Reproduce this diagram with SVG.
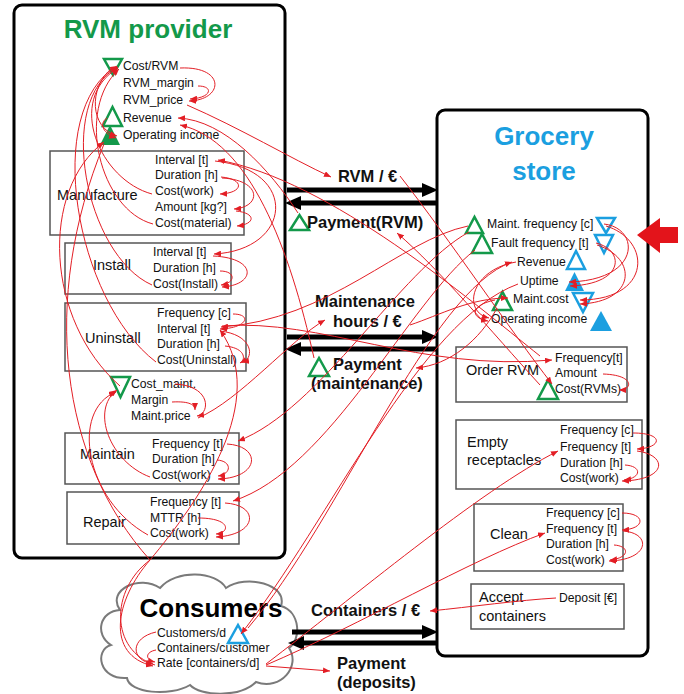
<svg xmlns="http://www.w3.org/2000/svg" width="684" height="694" viewBox="0 0 684 694">
<defs>
<marker id="ra" markerUnits="userSpaceOnUse" markerWidth="7" markerHeight="6" refX="7" refY="3" orient="auto"><path d="M0,0 L7,3 L0,6 z" fill="#e31e25"/></marker>
<style>
.outer{fill:#fff;stroke:#000;stroke-width:3}
.sub{fill:none;stroke:#555;stroke-width:1.5}
.t{font-family:"Liberation Sans",Arial,sans-serif;font-size:12.2px;fill:#111}
.lb{font-family:"Liberation Sans",Arial,sans-serif;font-size:14.5px;fill:#111}
.fl{font-family:"Liberation Sans",Arial,sans-serif;font-size:16.5px;font-weight:bold;fill:#111}
.ttl{font-family:"Liberation Sans",Arial,sans-serif;font-size:26px;font-weight:bold}
.go{fill:none;stroke:#13994a;stroke-width:2.5}
.gf{fill:#13994a}
.bo{fill:none;stroke:#1b9fe0;stroke-width:2.5}
.bf{fill:#1b9fe0}
.bar{stroke:#000;stroke-width:5}
.c{fill:none;stroke:#e31e25;stroke-width:1;marker-end:url(#ra)}
</style>
</defs>
<rect width="684" height="694" fill="#fff"/>

<g id="rvm-provider">
<rect class="outer" x="14" y="5" width="271" height="553" rx="8"/>
<text class="ttl" x="148" y="38" text-anchor="middle" fill="#13994a">RVM provider</text>
<polygon class="go" points="104,59 122,59 113,75"/>
<polygon class="go" points="103,126 122,126 112.5,107"/>
<polygon class="gf" points="100,145 120,145 110,125"/>
<text class="t" x="123" y="70">Cost/RVM</text>
<text class="t" x="123" y="87">RVM_margin</text>
<text class="t" x="123" y="104">RVM_price</text>
<text class="t" x="123" y="122">Revenue</text>
<text class="t" x="123" y="139">Operating income</text>
<g id="manufacture">
<rect class="sub" x="50" y="151" width="194" height="84"/>
<text class="lb" x="57" y="200">Manufacture</text>
<text class="t" x="155" y="164">Interval [t]</text>
<text class="t" x="155" y="179">Duration [h]</text>
<text class="t" x="155" y="195">Cost(work)</text>
<text class="t" x="155" y="211">Amount [kg?]</text>
<text class="t" x="155" y="227">Cost(material)</text>
</g>
<g id="install">
<rect class="sub" x="65" y="243" width="166" height="51"/>
<text class="lb" x="93" y="270">Install</text>
<text class="t" x="153" y="256">Interval [t]</text>
<text class="t" x="153" y="272">Duration [h]</text>
<text class="t" x="153" y="288">Cost(Install)</text>
</g>
<g id="uninstall">
<rect class="sub" x="65" y="303" width="181" height="68"/>
<text class="lb" x="85" y="343">Uninstall</text>
<text class="t" x="157" y="317">Frequency [c]</text>
<text class="t" x="157" y="333">Interval [t]</text>
<text class="t" x="157" y="348">Duration [h]</text>
<text class="t" x="157" y="364">Cost(Uninstall)</text>
</g>
<g id="cost-maint">
<polygon class="go" points="111,377 130,377 120.5,397"/>
<text class="t" x="131" y="388">Cost_maint.</text>
<text class="t" x="131" y="404">Margin</text>
<text class="t" x="131" y="420">Maint.price</text>
</g>
<g id="maintain">
<rect class="sub" x="65" y="433" width="174" height="51"/>
<text class="lb" x="80" y="459">Maintain</text>
<text class="t" x="152" y="448">Frequency [t]</text>
<text class="t" x="152" y="463">Duration [h]</text>
<text class="t" x="152" y="479">Cost(work)</text>
</g>
<g id="repair">
<rect class="sub" x="67" y="492" width="172" height="52"/>
<text class="lb" x="83" y="527">Repair</text>
<text class="t" x="150" y="506">Frequency [t]</text>
<text class="t" x="150" y="522">MTTR [h]</text>
<text class="t" x="150" y="537">Cost(work)</text>
</g>
</g>

<g id="grocery-store">
<rect class="outer" x="437" y="110" width="211" height="546" rx="8"/>
<text class="ttl" x="544" y="145" text-anchor="middle" fill="#1b9fe0">Grocery</text>
<text class="ttl" x="544" y="180" text-anchor="middle" fill="#1b9fe0">store</text>
<polygon class="go" points="466,233 483,233 474.5,217"/>
<polygon class="go" points="472,253 492,253 482,234"/>
<polygon class="bo" points="597,218 615,218 606,233"/>
<polygon class="bo" points="595,235 613,235 604,253"/>
<polygon class="bo" points="567,269 585,269 576,251"/>
<polygon class="bf" points="565,291 584,291 574.5,272"/>
<polygon class="go" points="493,310 512,310 502.5,292"/>
<polygon class="bo" points="573,293 593,293 583,312"/>
<polygon class="bf" points="590,331 612,331 601,311"/>
<text class="t" x="487" y="228">Maint. frequency [c]</text>
<text class="t" x="491" y="247">Fault frequency [t]</text>
<text class="t" x="517" y="266">Revenue</text>
<text class="t" x="520" y="285">Uptime</text>
<text class="t" x="513" y="303">Maint.cost</text>
<text class="t" x="491" y="323">Operating income</text>
<g id="order-rvm">
<rect class="sub" x="456" y="347" width="171" height="55"/>
<text class="lb" x="466" y="375">Order RVM</text>
<text class="t" x="555" y="362">Frequency[t]</text>
<text class="t" x="555" y="377">Amount</text>
<text class="t" x="555" y="393">Cost(RVMs)</text>
<polygon class="go" points="538,399 558,399 548,380"/>
</g>
<g id="empty-receptacles">
<rect class="sub" x="456" y="420" width="186" height="69"/>
<text class="lb" x="467" y="447">Empty</text>
<text class="lb" x="467" y="465">receptacles</text>
<text class="t" x="560" y="434">Frequency [c]</text>
<text class="t" x="560" y="451">Frequency [t]</text>
<text class="t" x="560" y="467">Duration [h]</text>
<text class="t" x="560" y="482">Cost(work)</text>
</g>
<g id="clean">
<rect class="sub" x="474" y="504" width="149" height="67"/>
<text class="lb" x="490" y="539">Clean</text>
<text class="t" x="546" y="517">Frequency [c]</text>
<text class="t" x="546" y="533">Frequency [t]</text>
<text class="t" x="546" y="548">Duration [h]</text>
<text class="t" x="546" y="564">Cost(work)</text>
</g>
<g id="accept-containers">
<rect class="sub" x="471" y="584" width="153" height="45"/>
<text class="lb" x="479" y="602">Accept</text>
<text class="lb" x="479" y="621">containers</text>
<text class="t" x="559" y="602">Deposit [€]</text>
</g>
</g>

<g id="consumers">
<path d="M120,610 C106,590 140,574 160,588 C176,569 216,571 226,588 C246,574 288,584 281,606 C301,612 301,640 289,648 C301,666 281,691 256,682 C240,698 200,696 190,685 C170,697 129,693 127,678 C99,680 94,650 111,645 C94,634 100,611 120,610 Z" fill="#fff" stroke="#7a7a7a" stroke-width="2"/>
<text x="211" y="617" text-anchor="middle" font-family="Liberation Sans, Arial, sans-serif" font-size="26" font-weight="bold" fill="#000">Consumers</text>
<text class="t" x="157" y="637">Customers/d</text>
<text class="t" x="157" y="652">Containers/customer</text>
<text class="t" x="157" y="667">Rate [containers/d]</text>
<polygon class="bo" points="228,643 248,643 238,625"/>
</g>

<g id="flows">
<line class="bar" x1="287" y1="190" x2="424" y2="190"/><polygon points="422,183 438,190 422,197"/>
<line class="bar" x1="299" y1="203" x2="437" y2="203"/><polygon points="301,196 285,203 301,210"/>
<line class="bar" x1="287" y1="337" x2="424" y2="337"/><polygon points="422,330 438,337 422,344"/>
<line class="bar" x1="299" y1="349" x2="437" y2="349"/><polygon points="301,342 285,349 301,356"/>
<line class="bar" x1="292" y1="632" x2="424" y2="632"/><polygon points="422,625 438,632 422,639"/>
<line class="bar" x1="302" y1="643" x2="437" y2="643"/><polygon points="304,636 288,643 304,650"/>
<text class="fl" x="338" y="182">RVM / €</text>
<polygon class="go" points="290,230 309,230 299.5,215"/>
<text class="fl" x="307" y="228">Payment(RVM)</text>
<text class="fl" x="315" y="307">Maintenance</text>
<text class="fl" x="333" y="327">hours / €</text>
<polygon class="go" points="309,376 329,376 319,358"/>
<text class="fl" x="333" y="370">Payment</text>
<text class="fl" x="311" y="389">(maintenance)</text>
<text class="fl" x="311" y="616">Containers / €</text>
<text class="fl" x="337" y="669">Payment</text>
<text class="fl" x="337" y="688">(deposits)</text>
<polygon points="637,235 660,218 660,227 678,227 678,243 660,243 660,253" fill="#e3141b"/>
</g>

<g id="connectors">
<path class="c" d="M180,68 C226,66 224,100 189,101"/>
<path class="c" d="M198,86 C214,86 212,98 190,99"/>
<path class="c" d="M187,105 C240,128 290,158 331,177"/>
<path class="c" d="M298,213 C270,170 225,120 178,118"/>
<path class="c" d="M314,358 C290,250 250,140 180,125"/>
<path class="c" d="M112,68 C88,88 90,128 117,136"/>
<path class="c" d="M107,118 C98,124 104,134 116,138"/>
<path class="c" d="M153,224 C100,210 75,110 119,69"/>
<path class="c" d="M152,194 C100,180 65,100 118,68"/>
<path class="c" d="M152,285 C85,255 55,100 118,67"/>
<path class="c" d="M156,362 C75,300 42,110 117,66"/>
<path class="c" d="M120,386 C45,320 40,190 104,142"/>
<path class="c" d="M150,477 C110,462 90,410 117,390"/>
<path class="c" d="M148,535 C85,500 70,410 116,392"/>
<path class="c" d="M221,177 C245,179 244,193 220,194"/>
<path class="c" d="M222,178 C262,180 262,207 234,209"/>
<path class="c" d="M236,211 C256,213 256,224 237,226"/>
<path class="c" d="M215,161 C300,170 292,250 214,254"/>
<path class="c" d="M213,256 C258,258 256,285 222,287"/>
<path class="c" d="M220,271 C236,271 236,283 221,285"/>
<path class="c" d="M233,314 C252,314 248,328 220,329"/>
<path class="c" d="M220,331 C255,335 254,360 242,362"/>
<path class="c" d="M225,346 C246,348 246,360 240,363"/>
<path class="c" d="M175,384 C212,386 210,414 197,416"/>
<path class="c" d="M172,402 C190,401 195,405 195,410"/>
<path class="c" d="M227,444 C262,446 260,478 218,479"/>
<path class="c" d="M217,460 C232,461 232,474 218,476"/>
<path class="c" d="M225,503 C260,505 258,535 216,537"/>
<path class="c" d="M198,518 C232,518 230,533 216,534"/>
<path class="c" d="M540,356 C470,300 330,180 218,160"/>
<path class="c" d="M469,232 C400,270 320,410 238,441"/>
<path class="c" d="M475,250 C410,300 330,470 233,501"/>
<path class="c" d="M468,226 C400,240 330,320 221,327"/>
<path class="c" d="M222,326 C320,318 420,372 552,360"/>
<path class="c" d="M198,418 C240,400 290,340 325,320"/>
<path class="c" d="M410,325 C440,315 470,298 508,298"/>
<path class="c" d="M497,308 C480,340 450,365 416,368"/>
<path class="c" d="M400,176 C450,240 510,330 552,384"/>
<path class="c" d="M540,385 C490,330 440,270 397,233"/>
<path class="c" d="M518,284 C420,320 330,520 241,634"/>
<path class="c" d="M248,628 C340,520 430,290 512,262"/>
<path class="c" d="M266,664 C350,600 480,490 558,451"/>
<path class="c" d="M266,665 C360,625 470,560 545,533"/>
<path class="c" d="M266,666 L330,671"/>
<path class="c" d="M556,598 C520,600 470,607 430,611"/>
<path class="c" d="M155,665 C110,650 110,590 150,560 C200,500 270,400 220,330"/>
<path class="c" d="M104,144 C40,300 60,460 150,560 C115,600 105,655 153,666"/>
<path class="c" d="M156,632 C130,638 130,660 153,664"/>
<path class="c" d="M156,650 C145,652 145,660 155,662"/>
<path class="c" d="M604,224 C640,228 642,280 569,282"/>
<path class="c" d="M606,226 C652,240 652,300 580,300"/>
<path class="c" d="M596,243 C625,250 625,284 570,286"/>
<path class="c" d="M597,245 C638,258 636,302 580,304"/>
<path class="c" d="M516,262 C470,270 462,312 489,318"/>
<path class="c" d="M495,300 C470,305 470,318 488,321"/>
<path class="c" d="M603,374 C635,375 633,390 619,390"/>
<path class="c" d="M633,433 C665,433 662,448 637,449"/>
<path class="c" d="M637,451 C668,455 668,480 622,481"/>
<path class="c" d="M625,465 C642,466 642,478 624,480"/>
<path class="c" d="M622,513 C646,513 646,529 622,530"/>
<path class="c" d="M623,531 C652,533 650,560 609,561"/>
<path class="c" d="M614,545 C630,546 630,558 610,560"/>
</g>
</svg>
